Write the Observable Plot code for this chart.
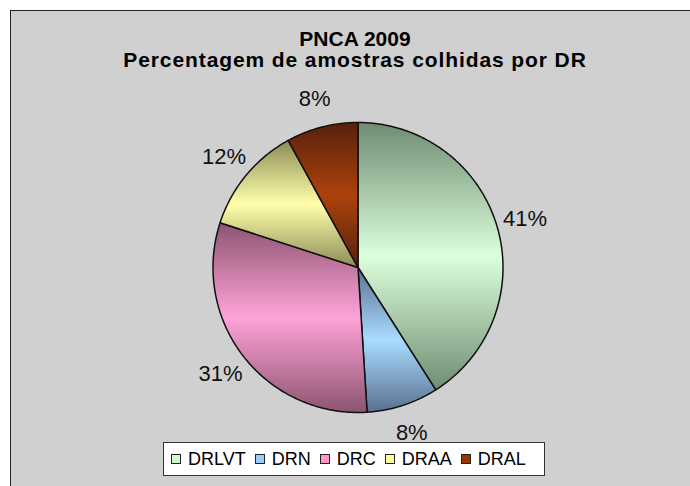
<!DOCTYPE html>
<html>
<head>
<meta charset="utf-8">
<script src="https://cdn.jsdelivr.net/npm/d3@7"></script>
<script src="https://cdn.jsdelivr.net/npm/@observablehq/plot@0.6"></script>
<style>
  html, body { margin: 0; padding: 0; width: 690px; height: 486px; overflow: hidden; background: #fff;
    font-family: "Liberation Sans", Arial, sans-serif; }
  #frame { position: absolute; left: 10px; top: 10px; width: 700px; height: 500px; background: #d0d0d0;
    border-left: 1.5px solid #222; border-top: 1.5px solid #222; }
  #title { position: absolute; left: 10px; width: 690px; top: 28px; text-align: center; color: #000;
    font-weight: bold; font-size: 21px; line-height: 21px; }
  #title .sub { letter-spacing: 0.9px; }
  #chart { position: absolute; left: 0; top: 90px; }
  #legend { position: absolute; left: 163px; top: 442px; width: 382px; height: 34px; box-sizing: border-box;
    background: #fff; border: 1px solid #333; display: flex; align-items: center; padding-left: 7px;
    font-size: 18px; color: #000; }
  #legend .sw { width: 8px; height: 8px; border: 1px solid #222; margin-right: 7px; }
  #legend .lab { margin-right: 9px; }
</style>
</head>
<body>
<div id="frame"></div>
<div id="title"><div>PNCA 2009</div><div class="sub">Percentagem de amostras colhidas por DR</div></div>
<div id="chart"></div>
<div id="legend"></div>
<script>
// Samples collected per regional directorate (percent of total)
const categories = ["DRLVT", "DRN", "DRC", "DRAA", "DRAL"];
const shares = [41, 8, 31, 12, 8];
// legend swatch colours and the light/dark ends of each slice's banded fill
const swatch = ["#ccffcc", "#99ccff", "#ff99cc", "#ffff99", "#993300"];
const shadeLight = ["#dcffdc", "#a8dcff", "#ffa3d8", "#ffffaa", "#ac420c"];
const shadeDark = ["#6f8c72", "#5a7090", "#8c5470", "#8c8c58", "#57210c"];

const rows = categories.map((name, i) => ({name, value: shares[i], i}));

// slice angles, clockwise from 12 o'clock, in input order
const arcs = d3.pie().sort(null).value(d => d.value)(rows);

// outline of each slice as a closed polygon in unit-circle coordinates
function slicePolygon(a) {
  const pts = [{x: 0, y: 0}];
  const n = Math.max(2, Math.ceil((a.endAngle - a.startAngle) / (Math.PI / 240)));
  for (let k = 0; k <= n; k++) {
    const t = a.startAngle + (a.endAngle - a.startAngle) * k / n;
    pts.push({x: Math.sin(t), y: Math.cos(t)});
  }
  pts.push({x: 0, y: 0});
  return pts;
}

const labels = arcs.map(a => {
  const m = (a.startAngle + a.endAngle) / 2;
  return {x: 1.2 * Math.sin(m), y: 1.2 * Math.cos(m), text: `${a.data.value}%`};
});

const W = 690, H = 350, R = 145, CX = 357.5, CY = 177;

const svg = Plot.plot({
  width: W,
  height: H,
  marginLeft: CX - R,
  marginRight: W - CX - R,
  marginTop: CY - R,
  marginBottom: H - CY - R,
  x: {domain: [-1, 1], axis: null},
  y: {domain: [-1, 1], axis: null},
  style: {background: "transparent", overflow: "visible"},
  marks: [
    ...arcs.map(a => Plot.line(slicePolygon(a), {
      x: "x", y: "y", curve: "linear",
      fill: `url(#shade-${a.data.i})`,
      stroke: "#111", strokeWidth: 1.5, strokeLinejoin: "round"
    })),
    Plot.text(labels, {
      x: "x", y: "y", text: "text",
      fontSize: 22, fill: "#111", textAnchor: "middle",
      fontFamily: "Liberation Sans, Arial, sans-serif"
    })
  ]
});

// banded fill: dark at the top and bottom of each slice, light in its middle
const defs = d3.select(svg).insert("defs", ":first-child");
rows.forEach(r => {
  const g = defs.append("linearGradient")
    .attr("id", `shade-${r.i}`)
    .attr("x1", 0).attr("y1", 0).attr("x2", 0).attr("y2", 1);
  g.append("stop").attr("offset", "0%").attr("stop-color", shadeDark[r.i]);
  g.append("stop").attr("offset", "50%").attr("stop-color", shadeLight[r.i]);
  g.append("stop").attr("offset", "100%").attr("stop-color", shadeDark[r.i]);
});

document.getElementById("chart").appendChild(svg);

// legend row
const legend = d3.select("#legend");
rows.forEach(r => {
  legend.append("span").attr("class", "sw").style("background", swatch[r.i]);
  legend.append("span").attr("class", "lab").text(r.name);
});
</script>
</body>
</html>
